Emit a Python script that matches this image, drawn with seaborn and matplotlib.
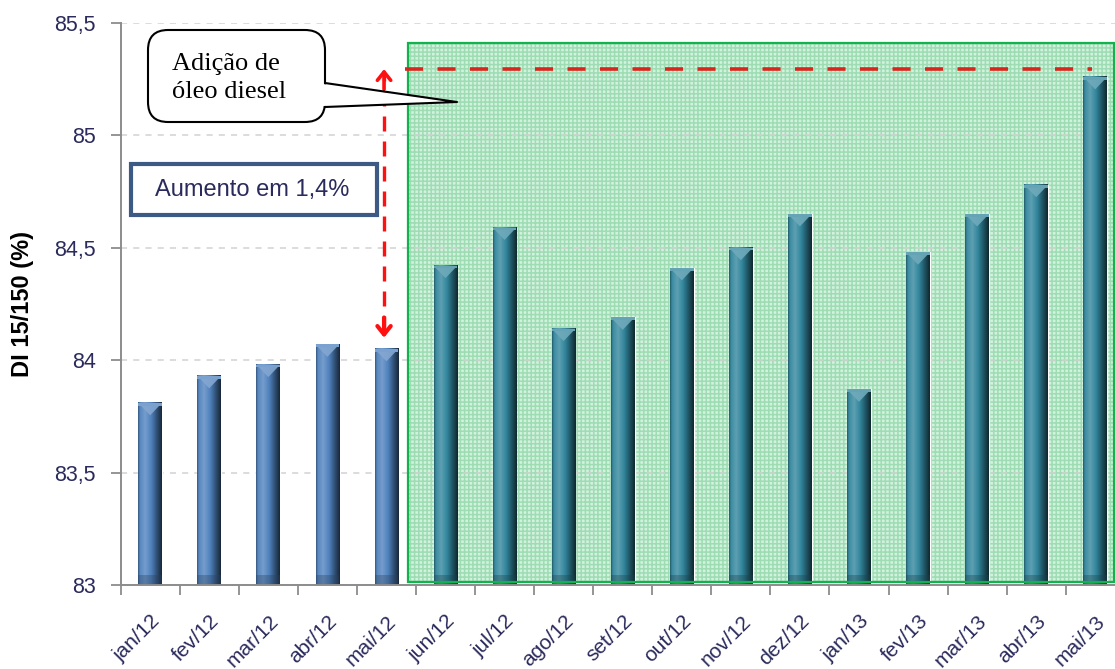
import numpy as np
import pandas as pd
import matplotlib
matplotlib.use("Agg")
import matplotlib.pyplot as plt
import seaborn as sns
from matplotlib.colors import LinearSegmentedColormap, to_rgb
from matplotlib.patches import Rectangle, FancyBboxPatch, Polygon
from matplotlib.lines import Line2D
from matplotlib.transforms import Affine2D, ScaledTranslation

# ---- data -------------------------------------------------------------
meses = ["jan/12", "fev/12", "mar/12", "abr/12", "mai/12", "jun/12", "jul/12",
         "ago/12", "set/12", "out/12", "nov/12", "dez/12", "jan/13", "fev/13",
         "mar/13", "abr/13", "mai/13"]
di_15_150 = [83.81, 83.93, 83.98, 84.07, 84.05, 84.42, 84.59, 84.14, 84.19,
             84.41, 84.50, 84.65, 83.87, 84.48, 84.65, 84.78, 85.26]
periodo = ["sem diesel"] * 5 + ["com diesel"] * 12
y_ticks = [83.0, 83.5, 84.0, 84.5, 85.0, 85.5]
y_tick_labels = ["83", "83,5", "84", "84,5", "85", "85,5"]
cores = {"sem diesel": "#4f81bd", "com diesel": "#31859c"}

df = pd.DataFrame({"mes": meses, "di": di_15_150, "periodo": periodo})

# ---- style ------------------------------------------------------------
sns.set_theme(style="white")
plt.rcParams["font.family"] = ["Liberation Sans", "DejaVu Sans"]
plt.rcParams["hatch.linewidth"] = 1.1
tick_color = "#2a2a5c"
axis_gray = "#8c8c8c"

W, H = 1115, 669
fig = plt.figure(figsize=(W / 100, H / 100), dpi=100)
ax = fig.add_axes([120.6 / W, 1 - 585 / H, 1 - 120.6 / W, (585 - 23) / H])

# pixel-space transform for the free-floating callouts
px = Affine2D().scale(1 / W, -1 / H).translate(0, 1) + fig.transFigure

sns.barplot(data=df, x="mes", y="di", hue="periodo", palette=cores,
            dodge=False, width=0.40, saturation=1, legend=False, ax=ax,
            zorder=2)

y0 = y_ticks[0]


def mix(c, other, t):
    c = np.array(to_rgb(c))
    o = np.array(to_rgb(other))
    return tuple(c * (1 - t) + o * t)


def cylinder_cmap(base):
    return LinearSegmentedColormap.from_list(
        "cyl", [(0.0, mix(base, "black", 0.35)),
                (0.08, mix(base, "white", 0.05)),
                (0.30, mix(base, "white", 0.22)),
                (0.55, base),
                (0.80, mix(base, "black", 0.40)),
                (1.0, mix(base, "black", 0.70))])


bars = list(ax.patches)
bevel = 0.055
for p in bars:
    base = p.get_facecolor()[:3]
    x, w, h = p.get_x(), p.get_width(), p.get_height()
    grad = np.linspace(0, 1, 256)[None, :]
    ax.imshow(grad, cmap=cylinder_cmap(base), extent=(x, x + w, y0, h),
              aspect="auto", origin="lower", interpolation="bilinear",
              zorder=2.1)
    # lit top cap
    ax.add_patch(Polygon([(x, h), (x + w, h), (x + w / 2, h - bevel)],
                         closed=True, facecolor=mix(base, "white", 0.3),
                         edgecolor="none", alpha=0.9, zorder=2.2))
    ax.add_patch(Rectangle((x, h - 0.012), w, 0.012,
                           facecolor=mix(base, "white", 0.25),
                           edgecolor="none", zorder=2.2))
    # shaded base
    ax.add_patch(Rectangle((x, y0), w, 0.045,
                           facecolor=mix(base, "black", 0.5),
                           edgecolor="none", alpha=0.35, zorder=2.2))

# ---- highlighted period -----------------------------------------------
i_first_diesel = periodo.index("com diesel")
x_left = i_first_diesel - 0.635
x_right = len(meses) - 0.68
ax.add_patch(Rectangle((x_left, 83.013), x_right - x_left, 85.41 - 83.013,
                       facecolor="#d2f2de", edgecolor="#9edcb4", hatch="++++",
                       linewidth=0, zorder=0.2))
ax.add_patch(Rectangle((x_left, 83.013), x_right - x_left, 85.41 - 83.013,
                       fill=False, edgecolor="#12b34f", linewidth=1.6,
                       zorder=3))

# ---- reference line and increase arrow --------------------------------
v_ini = di_15_150[i_first_diesel - 1]
v_fim = di_15_150[-1]
y_ref = v_fim + 0.035
ax.hlines(y_ref, i_first_diesel - 0.69, len(meses) - 1.06, colors="#d9261c",
          linewidth=2.6, linestyles=(0, (5, 4)), zorder=4)
x_arrow = i_first_diesel - 1.04
y_tip = v_ini + 0.05
ax.plot([x_arrow, x_arrow], [y_tip + 0.03, y_ref - 0.03], color="#ff1010",
        linewidth=2.4, linestyle=(0, (4.5, 3)), zorder=4)
ax.annotate("", xy=(x_arrow, y_ref), xytext=(x_arrow, y_ref - 0.09),
            arrowprops=dict(arrowstyle="->,head_length=0.5,head_width=0.4",
                            color="#ff1010", lw=2.6, shrinkA=0, shrinkB=0),
            zorder=4)
ax.annotate("", xy=(x_arrow, y_tip), xytext=(x_arrow, y_tip + 0.09),
            arrowprops=dict(arrowstyle="->,head_length=0.5,head_width=0.4",
                            color="#ff1010", lw=3.0, shrinkA=0, shrinkB=0),
            zorder=4)

# ---- axes -------------------------------------------------------------
x_max = (W - 120.6) / 59.07 - 0.5
ax.set_yticks(y_ticks)
ax.set_yticklabels(y_tick_labels)
ax.set_xticks(range(len(meses)))
ax.set_xticklabels(meses, rotation=45, ha="right", va="center",
                   rotation_mode="anchor")
ax.set_xticks(np.arange(-0.5, x_max, 1.0), minor=True)
ax.set_ylim(y_ticks[0], y_ticks[-1])
ax.set_xlim(-0.5, x_max)
ax.tick_params(axis="x", which="major", length=0, pad=24,
               labelsize=15, labelcolor=tick_color)
ax.tick_params(axis="x", which="minor", length=7, width=1.3,
               color=axis_gray, bottom=True)
ax.tick_params(axis="y", length=7, width=1.3, color=axis_gray, left=True,
               pad=11, labelsize=15.5, labelcolor=tick_color)
for lab in ax.get_xticklabels():
    lab.set_transform(lab.get_transform()
                      + ScaledTranslation(0.07, 0, fig.dpi_scale_trans))

ax.grid(axis="y", color="#d2d2d2", linestyle=(0, (4, 4)), linewidth=1.1)
ax.set_axisbelow(True)
for side in ("top", "right"):
    ax.spines[side].set_visible(False)
for side in ("left", "bottom"):
    ax.spines[side].set_color(axis_gray)
    ax.spines[side].set_linewidth(1.4)

ax.set_xlabel("")
ax.set_ylabel("DI 15/150 (%)", fontsize=17, fontweight="bold", color="black")
ax.yaxis.set_label_coords((34 - 120.6) / (W - 120.6), 0.5)

# ---- callouts ---------------------------------------------------------
bubble = FancyBboxPatch((148, 30), 177, 92,
                        boxstyle="round,pad=0,rounding_size=20",
                        transform=px, facecolor="white", edgecolor="black",
                        linewidth=1.5, zorder=10)
fig.add_artist(bubble)
tail_pts = [(325, 83), (457, 102), (325, 107)]
fig.add_artist(Polygon([(323, 84), (457, 102), (323, 106)], closed=True,
                       transform=px, facecolor="white", edgecolor="none",
                       zorder=10.5))
fig.add_artist(Line2D([p[0] for p in tail_pts], [p[1] for p in tail_pts],
                      transform=px, color="black", linewidth=1.5, zorder=11))
fig.text(172, 78, "Adição de\nóleo diesel", transform=px,
         family=["Liberation Serif", "DejaVu Serif"], fontsize=19,
         color="black", ha="left", va="center", linespacing=1.35, zorder=12)

fig.add_artist(Rectangle((131, 164), 246, 51, transform=px,
                         facecolor="white", edgecolor="#3d5a85",
                         linewidth=3, zorder=10))
fig.text(252, 190, "Aumento em 1,4%", transform=px, fontsize=17,
         color=tick_color, ha="center", va="center", zorder=12)

fig.savefig("out.png", dpi=100)
